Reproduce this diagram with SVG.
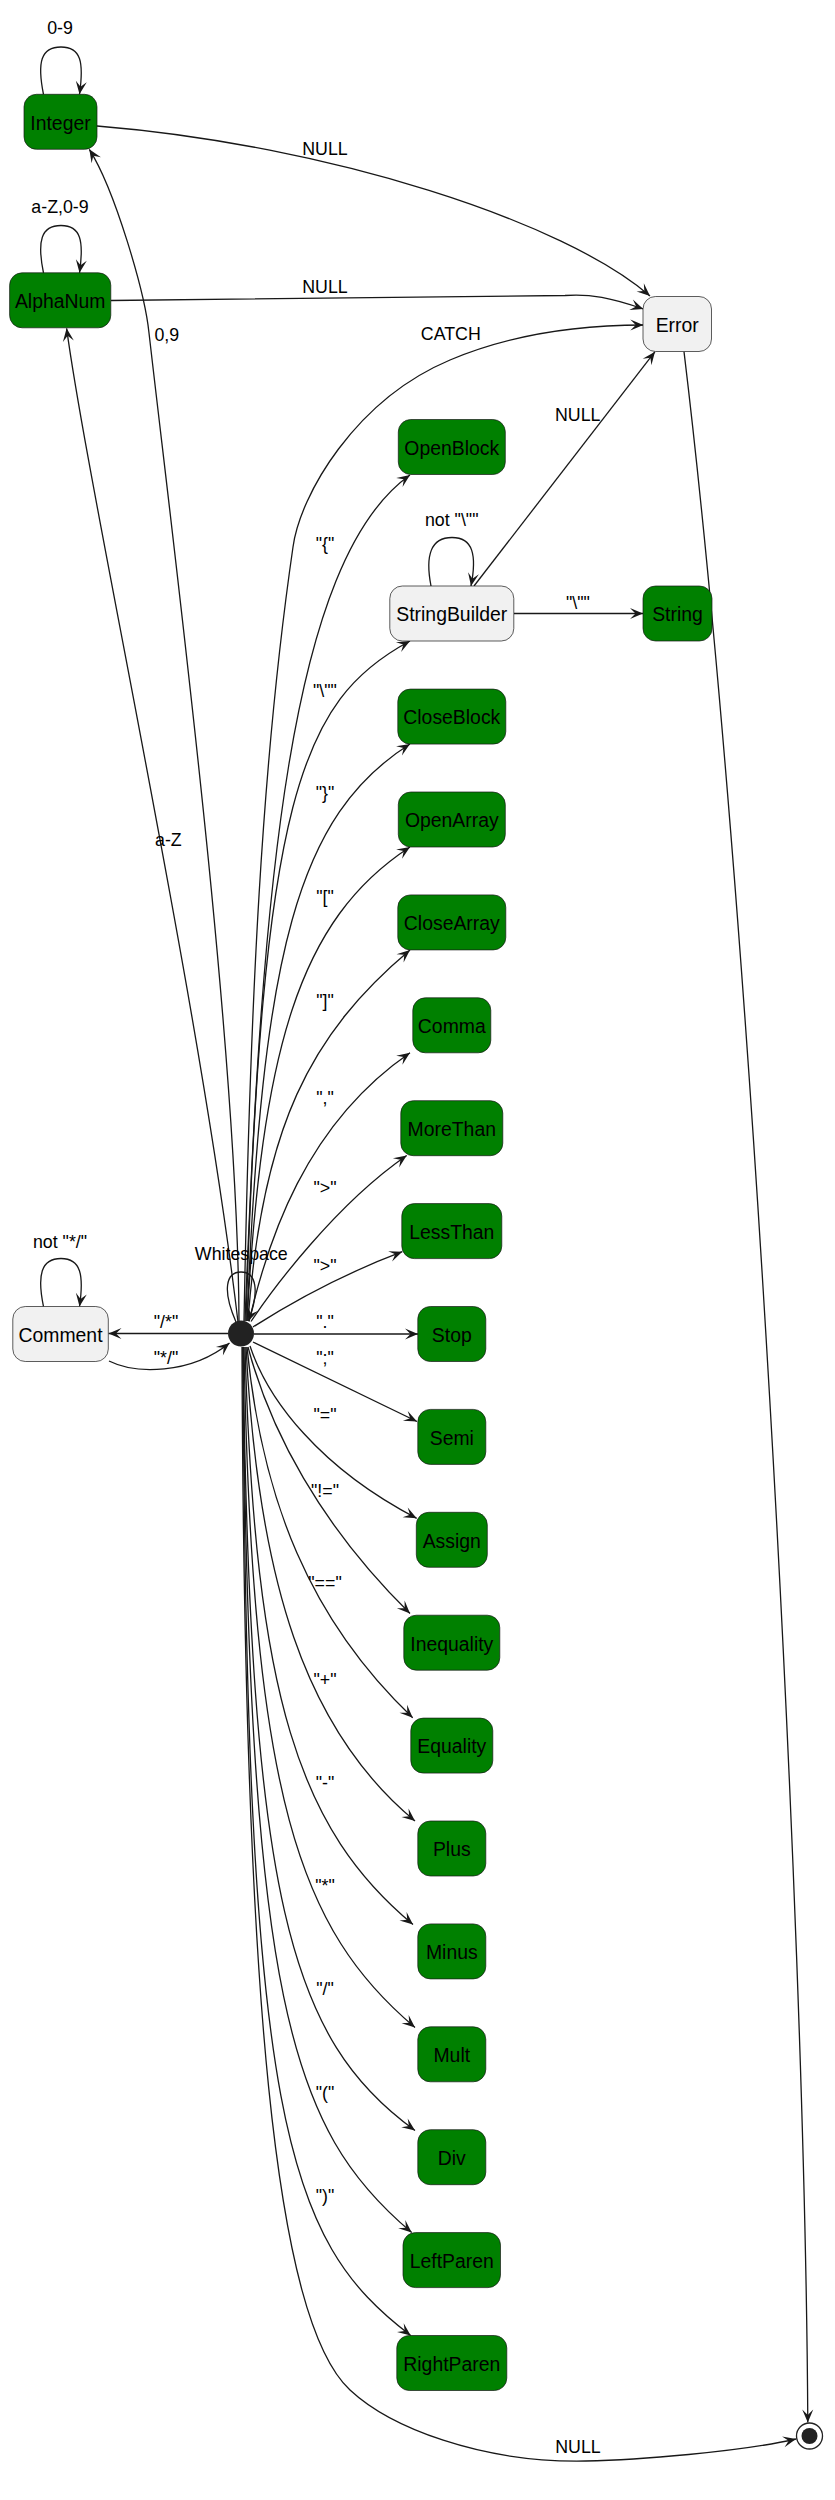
<svg xmlns="http://www.w3.org/2000/svg" width="835" height="2500" viewBox="0 0 835 2500">
<defs>
<marker id="ah" viewBox="-14 -7 15 14" refX="0" refY="0" markerWidth="15" markerHeight="14" markerUnits="userSpaceOnUse" orient="auto">
<path d="M0,0 L-13,-5.5 L-7.5,0 L-13,5.5 Z" fill="#181818"/>
</marker>
</defs>
<style>
.g rect{fill:#008000;stroke:#181818;stroke-width:0.7}
.w rect{fill:#F1F1F1;stroke:#181818;stroke-width:0.7}
.nt{font-family:"Liberation Sans",Arial,sans-serif;font-size:19.4px;fill:#000;text-anchor:middle}
.lb{font-family:"Liberation Sans",Arial,sans-serif;font-size:17.8px;fill:#000;text-anchor:middle}
.ll{font-family:"Liberation Sans",Arial,sans-serif;font-size:17.8px;fill:#000;text-anchor:start}
.e{fill:none;stroke:#181818;stroke-width:1.3;marker-end:url(#ah)}
</style>
<rect width="835" height="2500" fill="#FFFFFF"/>
<g id="connectors">
<path class="e" d="M43.5,94.5 C37,62 41,47 61,47 C81,47 84,62 79.5,94.3"/>
<path class="e" d="M43.5,273 C37,241 41,225.5 61,225.5 C81,225.5 84,241 79.5,272.8"/>
<path class="e" d="M43.5,1306.7 C37,1275 41,1258.5 61,1258.5 C81,1258.5 84,1275 79.5,1306.5"/>
<path class="e" d="M431,586 C425,555 431,537.5 452,537.5 C473,537.5 477,555 471,586"/>
<path class="e" d="M236,1322 C222,1290 226,1272 241,1272 C256,1272 260,1290 248.5,1321"/>
<path class="e" d="M97,126 C330,145 565,222 650,296"/>
<path class="e" d="M111,300.5 L565,295.5 C590,293.5 612,298 643.3,309"/>
<path class="e" d="M474,586 L655,351.7"/>
<path class="e" d="M514,613.5 L643,613.5"/>
<path class="e" d="M684,351.7 C750,900 805,1900 807.8,2422.5"/>
<path class="e" d="M242,1347 C244,2000 275,2320 350,2390 C390,2427.3 480,2463 585.7,2461 C635.7,2460 740,2452 796,2439"/>
<path class="e" d="M228,1333.5 L108.5,1333.5"/>
<path class="e" d="M109,1361 C135,1374 190,1375 229.5,1343"/>
<path class="e" d="M254,1334 L418,1334"/>
<path class="e" d="M253,1342 L417,1421.5"/>
<path class="e" d="M253,1327 Q325.7,1280.6 402.3,1251.7"/>
<path class="e" d="M251,1321.5 C272,1290 335,1205 406.7,1155.5"/>
<path class="e" d="M249,1321.5 C268,1240 305,1125 410,1052.8"/>
<path class="e" d="M248,1321 C262,1128 310,1034 410,950"/>
<path class="e" d="M247,1321 C262,1050 298,920 410,847"/>
<path class="e" d="M247,1321 C262,950 298,815 410,744"/>
<path class="e" d="M246,1321 C262,800 300,700 410,641"/>
<path class="e" d="M245,1321 C262,880 290,560 410,475"/>
<path class="e" d="M244,1321 C250,1000 262,760 293,547 C300,495 355,400 450,360 C526,328 600,325 643.3,325"/>
<path class="e" d="M239,1321 C238,1050 175,560 149,333 C145,293 115,190 89.3,149.3"/>
<path class="e" d="M238,1322 C200,1000 90,500 66.6,328.3"/>
<path class="e" d="M250,1346 C268,1400 320,1468 416.7,1518.3"/>
<path class="e" d="M248,1347 C270,1430 320,1525 410,1613.5"/>
<path class="e" d="M247,1347 C262,1500 310,1620 412.7,1717.8"/>
<path class="e" d="M246,1347 C258,1580 305,1730 415,1821"/>
<path class="e" d="M245,1347 C255,1700 300,1830 413,1924.5"/>
<path class="e" d="M244,1347 C252,1800 300,1930 415,2027.5"/>
<path class="e" d="M243,1347 C250,1900 290,2040 415,2130.5"/>
<path class="e" d="M243,1347 C248,2000 290,2130 411.7,2232.5"/>
<path class="e" d="M243,1347 C246,2120 285,2240 410.7,2335.5"/>
<text class="lb" x="60" y="34">0-9</text>
<text class="lb" x="60" y="212.7">a-Z,0-9</text>
<text class="lb" x="60" y="1247.7">not "*/"</text>
<text class="lb" x="451.7" y="526">not "\""</text>
<text class="lb" x="241.3" y="1260">Whitespace</text>
<text class="lb" x="325" y="155.4">NULL</text>
<text class="lb" x="325" y="292.7">NULL</text>
<text class="lb" x="450.8" y="340">CATCH</text>
<text class="ll" x="154.4" y="341">0,9</text>
<text class="ll" x="155" y="846">a-Z</text>
<text class="lb" x="577.7" y="421">NULL</text>
<text class="lb" x="578" y="608.7">"\""</text>
<text class="lb" x="578" y="2453.4">NULL</text>
<text class="lb" x="166" y="1328">"/*"</text>
<text class="lb" x="166" y="1364">"*/"</text>
<text class="lb" x="325" y="550">"{"</text>
<text class="lb" x="325" y="697">"\""</text>
<text class="lb" x="325" y="799">"}"</text>
<text class="lb" x="325" y="903">"["</text>
<text class="lb" x="325" y="1007">"]"</text>
<text class="lb" x="325" y="1104">","</text>
<text class="lb" x="325" y="1194">"&gt;"</text>
<text class="lb" x="325" y="1272">"&gt;"</text>
<text class="lb" x="325" y="1328">"."</text>
<text class="lb" x="325" y="1364">";"</text>
<text class="lb" x="325" y="1421">"="</text>
<text class="lb" x="325" y="1497">"!="</text>
<text class="lb" x="325" y="1589">"=="</text>
<text class="lb" x="325" y="1686">"+"</text>
<text class="lb" x="325" y="1789">"-"</text>
<text class="lb" x="325" y="1892">"*"</text>
<text class="lb" x="325" y="1995">"/"</text>
<text class="lb" x="325" y="2099">"("</text>
<text class="lb" x="325" y="2202">")"</text>
</g>
<g id="start"><circle cx="241" cy="1333.5" r="13" fill="#222222"/></g>
<g id="end"><circle cx="809.5" cy="2436" r="13" fill="#FFFFFF" stroke="#222222" stroke-width="1.3"/><circle cx="809.5" cy="2436" r="8" fill="#222222"/></g>
<g id="Integer" class="g"><rect x="24" y="94.3" width="73" height="55" rx="12.5"/><text class="nt" x="60.5" y="129.6">Integer</text></g>
<g id="AlphaNum" class="g"><rect x="9.6" y="272.8" width="101.2" height="55" rx="12.5"/><text class="nt" x="60.2" y="308.1">AlphaNum</text></g>
<g id="Comment" class="w"><rect x="12.8" y="1306.5" width="95.5" height="55" rx="12.5"/><text class="nt" x="60.5" y="1341.8">Comment</text></g>
<g id="Error" class="w"><rect x="643" y="296.5" width="68.5" height="55" rx="12.5"/><text class="nt" x="677.2" y="331.8">Error</text></g>
<g id="String" class="g"><rect x="643" y="586" width="69" height="55" rx="12.5"/><text class="nt" x="677.5" y="621.3">String</text></g>
<g id="OpenBlock" class="g"><rect x="398.3" y="419.5" width="107" height="55" rx="12.5"/><text class="nt" x="451.8" y="454.8">OpenBlock</text></g>
<g id="StringBuilder" class="w"><rect x="389.8" y="586" width="124" height="55" rx="12.5"/><text class="nt" x="451.8" y="621.3">StringBuilder</text></g>
<g id="CloseBlock" class="g"><rect x="397.8" y="689.1" width="108" height="55" rx="12.5"/><text class="nt" x="451.8" y="724.4">CloseBlock</text></g>
<g id="OpenArray" class="g"><rect x="398.3" y="792" width="107" height="55" rx="12.5"/><text class="nt" x="451.8" y="827.3">OpenArray</text></g>
<g id="CloseArray" class="g"><rect x="397.8" y="894.9" width="108" height="55" rx="12.5"/><text class="nt" x="451.8" y="930.2">CloseArray</text></g>
<g id="Comma" class="g"><rect x="412.8" y="997.8" width="78" height="55" rx="12.5"/><text class="nt" x="451.8" y="1033.1">Comma</text></g>
<g id="MoreThan" class="g"><rect x="400.8" y="1100.7" width="102" height="55" rx="12.5"/><text class="nt" x="451.8" y="1136">MoreThan</text></g>
<g id="LessThan" class="g"><rect x="401.8" y="1203.6" width="100" height="55" rx="12.5"/><text class="nt" x="451.8" y="1238.9">LessThan</text></g>
<g id="Stop" class="g"><rect x="417.8" y="1306.5" width="68" height="55" rx="12.5"/><text class="nt" x="451.8" y="1341.8">Stop</text></g>
<g id="Semi" class="g"><rect x="417.8" y="1409.4" width="68" height="55" rx="12.5"/><text class="nt" x="451.8" y="1444.7">Semi</text></g>
<g id="Assign" class="g"><rect x="416.3" y="1512.3" width="71" height="55" rx="12.5"/><text class="nt" x="451.8" y="1547.6">Assign</text></g>
<g id="Inequality" class="g"><rect x="403.8" y="1615.2" width="96" height="55" rx="12.5"/><text class="nt" x="451.8" y="1650.5">Inequality</text></g>
<g id="Equality" class="g"><rect x="410.8" y="1718.1" width="82" height="55" rx="12.5"/><text class="nt" x="451.8" y="1753.4">Equality</text></g>
<g id="Plus" class="g"><rect x="417.8" y="1821" width="68" height="55" rx="12.5"/><text class="nt" x="451.8" y="1856.3">Plus</text></g>
<g id="Minus" class="g"><rect x="417.8" y="1923.9" width="68" height="55" rx="12.5"/><text class="nt" x="451.8" y="1959.2">Minus</text></g>
<g id="Mult" class="g"><rect x="417.8" y="2026.8" width="68" height="55" rx="12.5"/><text class="nt" x="451.8" y="2062.1">Mult</text></g>
<g id="Div" class="g"><rect x="417.8" y="2129.7" width="68" height="55" rx="12.5"/><text class="nt" x="451.8" y="2165">Div</text></g>
<g id="LeftParen" class="g"><rect x="403" y="2232.6" width="97.5" height="55" rx="12.5"/><text class="nt" x="451.8" y="2267.9">LeftParen</text></g>
<g id="RightParen" class="g"><rect x="396.8" y="2335.5" width="110" height="55" rx="12.5"/><text class="nt" x="451.8" y="2370.8">RightParen</text></g>
</svg>
